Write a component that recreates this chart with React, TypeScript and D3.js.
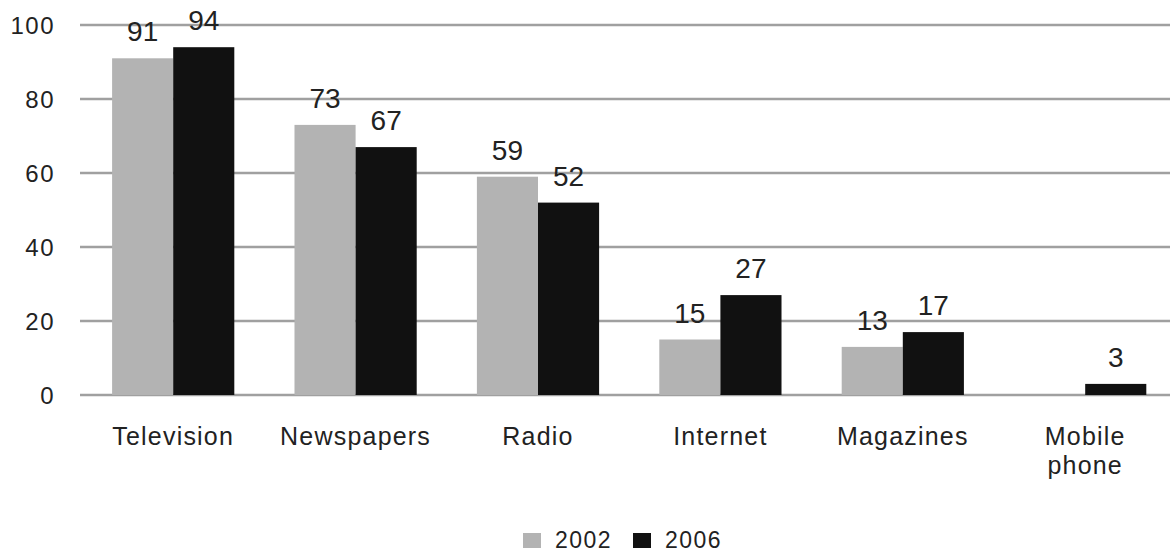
import React from "react";
import * as d3 from "d3";

const categories: string[][] = [
  ["Television"],
  ["Newspapers"],
  ["Radio"],
  ["Internet"],
  ["Magazines"],
  ["Mobile", "phone"],
];
const series2002: (number | null)[] = [91, 73, 59, 15, 13, null];
const series2006: (number | null)[] = [94, 67, 52, 27, 17, 3];
const seriesNames = ["2002", "2006"];
const seriesColors = ["#b3b3b3", "#111111"];
const yTicks = [0, 20, 40, 60, 80, 100];

const W = 1170;
const H = 554;
const FONT = "'Liberation Sans', Arial, sans-serif";

export default function App() {
  const keys = categories.map((c) => c.join(" "));
  const x = d3.scaleBand<string>().domain(keys).range([82, 82 + 6 * 182.4]).paddingInner(0.33).paddingOuter(0.165);
  const yScale = d3.scaleLinear().domain([0, 100]).range([395, 25]);
  const inner = d3.scaleBand<string>().domain(seriesNames).range([0, x.bandwidth()]);
  const allSeries = [series2002, series2006];

  return (
    <svg width={W} height={H} style={{ position: "absolute", left: 0, top: 0, background: "#fff" }}>
      <g>
        {yTicks.map((t) => (
          <g key={t}>
            <line x1={80} x2={W} y1={yScale(t)} y2={yScale(t)} stroke="#a0a0a0" strokeWidth={2.5} />
            <text
              x={55}
              y={yScale(t)}
              dy="0.36em"
              textAnchor="end"
              fontFamily={FONT}
              fontSize={24}
              letterSpacing={1.5}
              fill="#222"
            >
              {t}
            </text>
          </g>
        ))}
      </g>
      <g>
        {keys.map((k, i) =>
          allSeries.map((s, j) => {
            const v = s[i];
            if (v == null) return null;
            const bx = (x(k) as number) + (inner(seriesNames[j]) as number);
            const bw = inner.bandwidth();
            return (
              <g key={k + j}>
                <rect x={bx} y={yScale(v)} width={bw} height={yScale(0) - yScale(v)} fill={seriesColors[j]} />
                <text
                  x={bx + bw / 2}
                  y={yScale(v) - 17}
                  textAnchor="middle"
                  fontFamily={FONT}
                  fontSize={28}
                  fill="#222"
                >
                  {v}
                </text>
              </g>
            );
          })
        )}
      </g>
      <g>
        {categories.map((lines, i) => (
          <text
            key={i}
            x={(x(keys[i]) as number) + x.bandwidth() / 2}
            y={445}
            textAnchor="middle"
            fontFamily={FONT}
            fontSize={25}
            letterSpacing={1.2}
            fill="#222"
          >
            {lines.map((l, li) => (
              <tspan key={li} x={(x(keys[i]) as number) + x.bandwidth() / 2} dy={li === 0 ? 0 : 29}>
                {l}
              </tspan>
            ))}
          </text>
        ))}
      </g>
      <g>
        {seriesNames.map((n, j) => {
          const lx = 523 + j * 110;
          return (
            <g key={n}>
              <rect x={lx} y={533} width={18} height={15} fill={seriesColors[j]} />
              <text x={lx + 32} y={548} fontFamily={FONT} fontSize={23} letterSpacing={1.5} fill="#222">
                {n}
              </text>
            </g>
          );
        })}
      </g>
    </svg>
  );
}
